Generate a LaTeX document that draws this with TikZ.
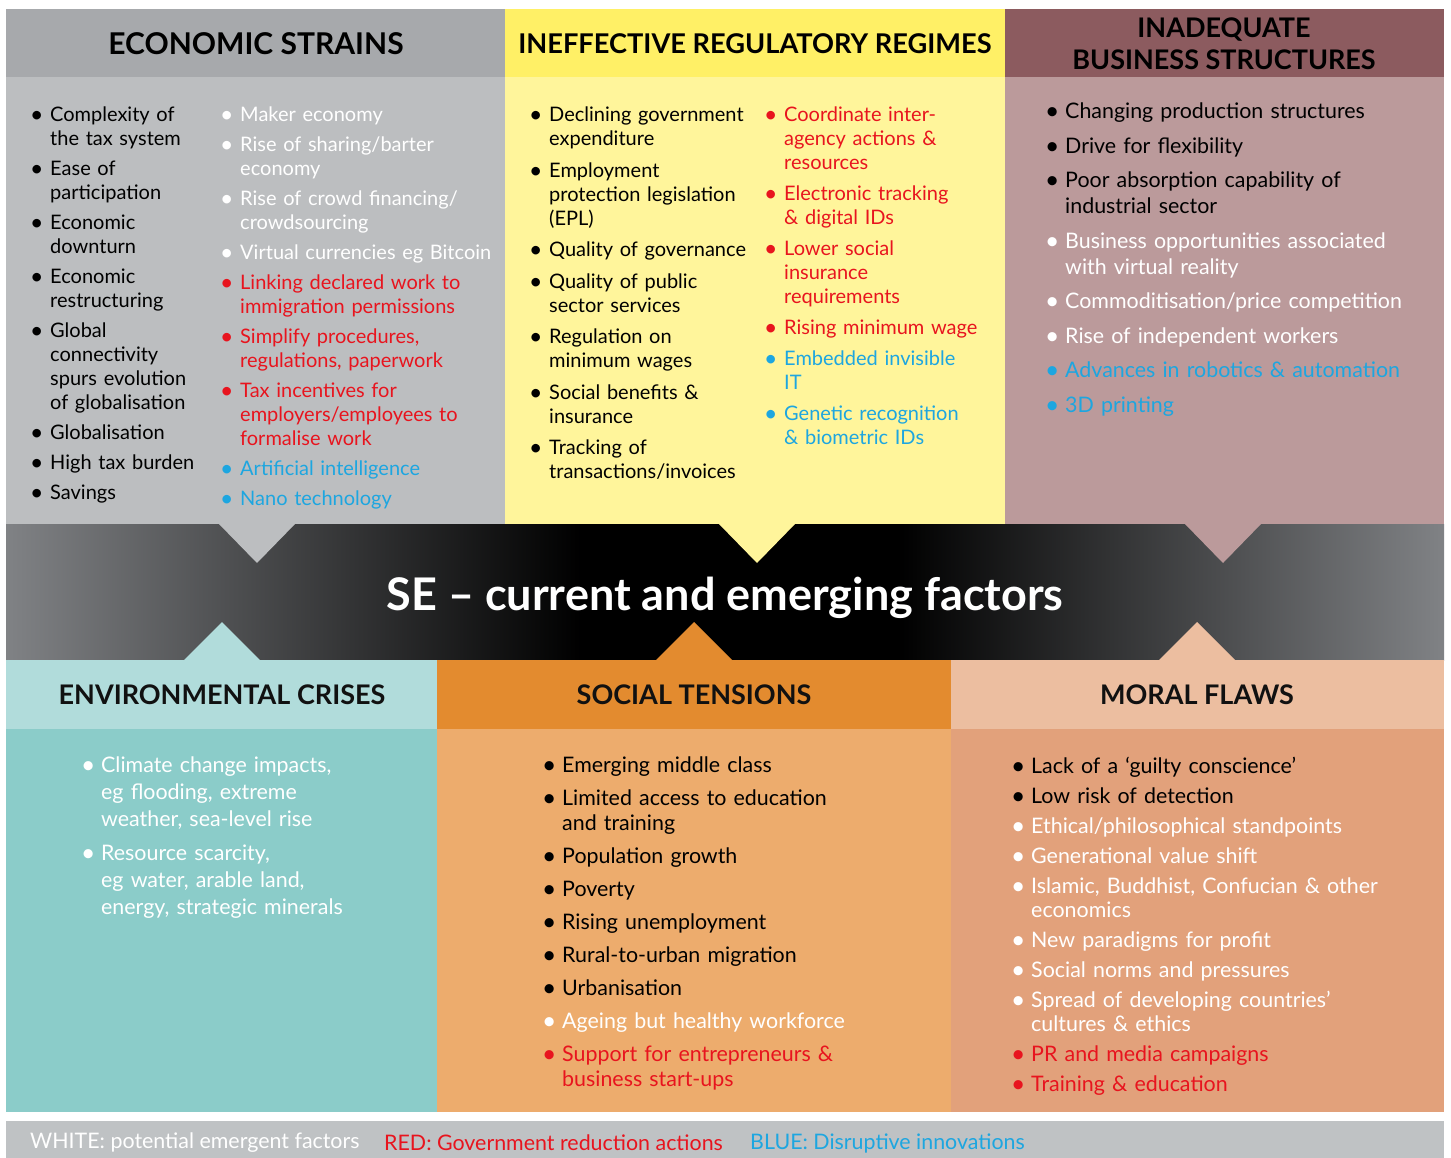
\documentclass[tikz,border=0pt]{standalone}
\usepackage{fontspec}
\setmainfont{Lato}
\usepackage{xcolor}
\usepackage{tikz}
\usetikzlibrary{positioning,calc}
\definecolor{econhead}{HTML}{A7A9AC}
\definecolor{econbody}{HTML}{BCBEC0}
\definecolor{reghead}{HTML}{FFF066}
\definecolor{regbody}{HTML}{FFF59B}
\definecolor{bushead}{HTML}{8C5B5F}
\definecolor{busbody}{HTML}{BB9A9B}
\definecolor{envhead}{HTML}{B1DCDB}
\definecolor{envbody}{HTML}{8BCCC9}
\definecolor{sochead}{HTML}{E38B2F}
\definecolor{socbody}{HTML}{EDAC6D}
\definecolor{morhead}{HTML}{ECBEA0}
\definecolor{morbody}{HTML}{E2A17B}
\definecolor{legbg}{HTML}{BFC2C4}
\definecolor{bandgray}{HTML}{808285}
\definecolor{redtxt}{HTML}{E8141E}
\definecolor{bluetxt}{HTML}{1DA6E0}
\definecolor{headtxt}{HTML}{111111}
\pgfdeclarehorizontalshading{bandshade}{100bp}{color(0bp)=(bandgray); color(25bp)=(bandgray); color(45bp)=(black); color(56bp)=(black); color(75bp)=(bandgray); color(100bp)=(bandgray)}
% one bullet line: colour, text
\newlength{\bulw}\setlength{\bulw}{17pt}
\newlength{\itmsep}
\newcommand{\itm}[2]{{\color{#1}\hangindent=\bulw\hangafter=1\noindent\makebox[\bulw][l]{\hspace{-3pt}\raisebox{-0.04em}{\scalebox{1.15}{\textbullet}}}#2\par}\vspace{\itmsep}}

\begin{document}
\begin{tikzpicture}[x=1pt, y=-1pt,
  headtop/.style={font=\fontsize{28}{32}\selectfont\bfseries\color{headtxt}, align=center, inner sep=0pt},
  headbot/.style={font=\fontsize{27}{30}\selectfont\bfseries\color{headtxt}, align=center, inner sep=0pt},
  factlist/.style={anchor=north west, inner sep=0pt, align=left},
  legtext/.style={anchor=west, inner sep=0pt, font=\fontsize{21.4}{24}\selectfont},
]
\useasboundingbox (0,0) rectangle (1451,1158);
% panels
\fill[econhead] (6,9) rectangle (505,77);
\fill[econbody] (6,77) rectangle (505,524);
\fill[reghead] (505,9) rectangle (1005,77);
\fill[regbody] (505,77) rectangle (1005,524);
\fill[bushead] (1005,9) rectangle (1444,77);
\fill[busbody] (1005,77) rectangle (1444,524);
\shade[shading=bandshade] (6,524) rectangle (1444,660);
\fill[envhead] (6,660) rectangle (437,729);
\fill[envbody] (6,729) rectangle (437,1112);
\fill[sochead] (437,660) rectangle (951,729);
\fill[socbody] (437,729) rectangle (951,1112);
\fill[morhead] (951,660) rectangle (1444,729);
\fill[morbody] (951,729) rectangle (1444,1112);
\fill[legbg] (6,1121) rectangle (1444,1158);
% pointers into the band
\fill[econbody] (218,523) -- (296,523) -- (257,563) -- cycle;
\fill[regbody] (718,523) -- (796,523) -- (757,563) -- cycle;
\fill[busbody] (1184,523) -- (1262,523) -- (1223,563) -- cycle;
\fill[envhead] (183,661) -- (261,661) -- (222,622) -- cycle;
\fill[sochead] (655,661) -- (733,661) -- (694,622) -- cycle;
\fill[morhead] (1158,661) -- (1236,661) -- (1197,622) -- cycle;

\node[headtop, font=\fontsize{30}{32}\selectfont\bfseries] (econ) at (256,44) {ECONOMIC STRAINS};
\node[headtop, font=\fontsize{27.2}{32}\selectfont\bfseries] (reg) at (755,44) {INEFFECTIVE REGULATORY REGIMES};
\node[headtop, font=\fontsize{27}{32}\selectfont\bfseries] (bus) at (1224,44) {INADEQUATE\\BUSINESS STRUCTURES};
\node[font=\fontsize{45}{48}\selectfont\bfseries\color{white}, inner sep=0pt] (core) at (725,598) {SE -- current and emerging factors};
\node[headbot] (env) at (222,695) {ENVIRONMENTAL CRISES};
\node[headbot] (soc) at (694,695) {SOCIAL TENSIONS};
\node[headbot] (mor) at (1197,695) {MORAL FLAWS};

\node[factlist, text width=190pt, font=\fontsize{20}{24}\selectfont, execute at begin node={\setlength{\itmsep}{6pt}}] (econa) at (33,107) {%
\itm{black}{Complexity of\newline the tax system}
\itm{black}{Ease of\newline participation}
\itm{black}{Economic\newline downturn}
\itm{black}{Economic\newline restructuring}
\itm{black}{Global\newline connectivity\newline spurs evolution\newline of globalisation}
\itm{black}{Globalisation}
\itm{black}{High tax burden}
\itm{black}{Savings}};
\node[factlist, text width=280pt, font=\fontsize{20}{24}\selectfont, execute at begin node={\setlength{\itmsep}{6pt}}] (econb) at (223,107) {%
\itm{white}{Maker economy}
\itm{white}{Rise of sharing/barter\newline economy}
\itm{white}{Rise of crowd financing/\newline crowdsourcing}
\itm{white}{Virtual currencies eg Bitcoin}
\itm{redtxt}{Linking declared work to\newline immigration permissions}
\itm{redtxt}{Simplify procedures,\newline regulations, paperwork}
\itm{redtxt}{Tax incentives for\newline employers/employees to\newline formalise work}
\itm{bluetxt}{Artificial intelligence}
\itm{bluetxt}{Nano technology}};
\node[factlist, text width=245pt, font=\fontsize{20}{24}\selectfont, execute at begin node={\setlength{\itmsep}{7.5pt}}] (rega) at (532,107) {%
\itm{black}{Declining government\newline expenditure}
\itm{black}{Employment\newline protection legislation\newline (EPL)}
\itm{black}{Quality of governance}
\itm{black}{Quality of public\newline sector services}
\itm{black}{Regulation on\newline minimum wages}
\itm{black}{Social benefits \&\newline insurance}
\itm{black}{Tracking of\newline transactions/invoices}};
\node[factlist, text width=235pt, font=\fontsize{20}{24}\selectfont, execute at begin node={\setlength{\itmsep}{7pt}}] (regb) at (767,107) {%
\itm{redtxt}{Coordinate inter-\newline agency actions \&\newline resources}
\itm{redtxt}{Electronic tracking\newline \& digital IDs}
\itm{redtxt}{Lower social\newline insurance\newline requirements}
\itm{redtxt}{Rising minimum wage}
\itm{bluetxt}{Embedded invisible\newline IT}
\itm{bluetxt}{Genetic recognition\newline \& biometric IDs}};
\node[factlist, text width=390pt, font=\fontsize{21.4}{26}\selectfont, execute at begin node={\setlength{\itmsep}{8.5pt}}] (busl) at (1048,103) {%
\itm{black}{Changing production structures}
\itm{black}{Drive for flexibility}
\itm{black}{Poor absorption capability of\newline industrial sector}
\itm{white}{Business opportunities associated\newline with virtual reality}
\itm{white}{Commoditisation/price competition}
\itm{white}{Rise of independent workers}
\itm{bluetxt}{Advances in robotics \& automation}
\itm{bluetxt}{3D printing}};
\node[factlist, text width=345pt, font=\fontsize{21.4}{27}\selectfont, execute at begin node={\setlength{\itmsep}{7pt}}] (envl) at (84,757) {%
\itm{white}{Climate change impacts,\newline eg flooding, extreme\newline weather, sea-level rise}
\itm{white}{Resource scarcity,\newline eg water, arable land,\newline energy, strategic minerals}};
\node[factlist, text width=395pt, font=\fontsize{21.4}{25}\selectfont, execute at begin node={\setlength{\itmsep}{8pt}}] (socl) at (545,757) {%
\itm{black}{Emerging middle class}
\itm{black}{Limited access to education\newline and training}
\itm{black}{Population growth}
\itm{black}{Poverty}
\itm{black}{Rising unemployment}
\itm{black}{Rural-to-urban migration}
\itm{black}{Urbanisation}
\itm{white}{Ageing but healthy workforce}
\itm{redtxt}{Support for entrepreneurs \&\newline business start-ups}};
\node[factlist, text width=425pt, font=\fontsize{21.4}{24}\selectfont, execute at begin node={\setlength{\itmsep}{6pt}}] (morl) at (1014,757) {%
\itm{black}{Lack of a ‘guilty conscience’}
\itm{black}{Low risk of detection}
\itm{white}{Ethical/philosophical standpoints}
\itm{white}{Generational value shift}
\itm{white}{Islamic, Buddhist, Confucian \& other\newline economics}
\itm{white}{New paradigms for profit}
\itm{white}{Social norms and pressures}
\itm{white}{Spread of developing countries’\newline cultures \& ethics}
\itm{redtxt}{PR and media campaigns}
\itm{redtxt}{Training \& education}};

\node[legtext, text=white] (legw) at (30,1143) {WHITE: potential emergent factors};
\node[legtext, text=redtxt] (legr) at (384,1143) {RED: Government reduction actions};
\node[legtext, text=bluetxt] (legb) at (750,1143) {BLUE: Disruptive innovations};
\end{tikzpicture}
\end{document}
